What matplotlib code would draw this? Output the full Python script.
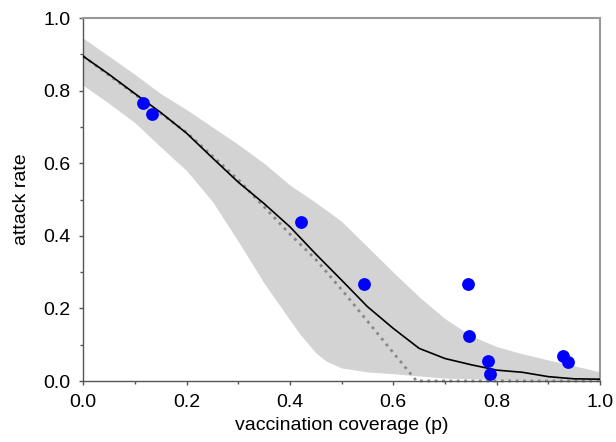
import numpy as np
import matplotlib.pyplot as plt

plt.rcParams['font.family'] = ['Liberation Sans', 'DejaVu Sans']

# model curve (mean)
x_line = [0, 0.05, 0.1, 0.15, 0.2, 0.25, 0.3, 0.35, 0.4, 0.45, 0.5, 0.55,
          0.6, 0.65, 0.7, 0.75, 0.8, 0.85, 0.9, 0.95, 1.0]
y_mean = [0.895, 0.845, 0.792, 0.74, 0.683, 0.615, 0.548, 0.489, 0.425, 0.35, 0.278, 0.205,
          0.145, 0.09, 0.062, 0.045, 0.03, 0.024, 0.012, 0.006, 0.005]

# 95% band
x_up = [0, 0.05, 0.1, 0.15, 0.2, 0.25, 0.3, 0.35, 0.4, 0.45, 0.5, 0.55,
        0.6, 0.65, 0.7, 0.75, 0.8, 0.85, 0.9, 0.95, 1.0]
y_upper = [0.945, 0.895, 0.845, 0.792, 0.748, 0.70, 0.652, 0.60, 0.54, 0.492, 0.44, 0.37,
           0.30, 0.232, 0.172, 0.125, 0.095, 0.075, 0.058, 0.042, 0.025]
x_lo = [0, 0.05, 0.1, 0.15, 0.2, 0.25, 0.3, 0.35, 0.4, 0.42, 0.45, 0.47, 0.5, 0.55,
        0.6, 0.65, 0.7, 0.8, 0.9, 1.0]
y_lower = [0.815, 0.765, 0.712, 0.645, 0.58, 0.495, 0.385, 0.27, 0.168, 0.128, 0.078, 0.055, 0.036, 0.025,
           0.02, 0.014, 0.008, 0.004, 0.002, 0.0]

# reference curve (dotted)
x_dot = [0, 0.1, 0.2, 0.3, 0.35, 0.4, 0.45, 0.5, 0.55, 0.6, 0.645, 0.7, 0.8, 0.9, 1.0]
y_dot = [0.895, 0.79, 0.685, 0.555, 0.48, 0.405, 0.335, 0.252, 0.165, 0.078, 0.0, 0, 0, 0, 0]

# observed outbreaks
obs_x = [0.116, 0.134, 0.421, 0.543, 0.745, 0.747, 0.783, 0.788, 0.929, 0.938]
obs_y = [0.766, 0.736, 0.437, 0.267, 0.268, 0.125, 0.055, 0.019, 0.069, 0.051]

fig = plt.figure(figsize=(6.16, 4.42), dpi=100)
ax = fig.add_axes([0.135, 0.138, 0.839, 0.821])

band_x = np.union1d(x_up, x_lo)
ax.fill_between(band_x, np.interp(band_x, x_lo, y_lower), np.interp(band_x, x_up, y_upper),
                color='#d3d3d3', linewidth=0, zorder=1)
ax.plot(x_dot, y_dot, linestyle=':', color='#888888', linewidth=2, zorder=2, clip_on=False)
ax.plot(x_line, y_mean, color='black', linewidth=1.2, zorder=3)
ax.scatter(obs_x, obs_y, s=85, color='#0000ff', zorder=4, linewidths=0)

ax.set_xlim(0, 1)
ax.set_ylim(0, 1)
ticks = np.arange(0, 1.01, 0.2)
ax.set_xticks(ticks)
ax.set_yticks(ticks)
ax.set_xticks(np.arange(0.1, 1.0, 0.2), minor=True)
ax.set_yticks(np.arange(0.1, 1.0, 0.2), minor=True)
ax.set_xticklabels(['%.1f' % v for v in ticks])
ax.set_yticklabels(['%.1f' % v for v in ticks])
ax.tick_params(which='major', length=3, width=1, color='#555555', labelsize=14, pad=6)
ax.tick_params(which='minor', length=2, width=1, color='#555555')

for s in ['left', 'bottom']:
    ax.spines[s].set_color('#555555')
    ax.spines[s].set_linewidth(1)
for s in ['top', 'right']:
    ax.spines[s].set_color('#999999')
    ax.spines[s].set_linewidth(1.5)

ax.set_xlabel('vaccination coverage (p)', fontsize=14, labelpad=5)
ax.set_ylabel('attack rate', fontsize=14, labelpad=10)

fig.savefig('out.png', dpi=100)
